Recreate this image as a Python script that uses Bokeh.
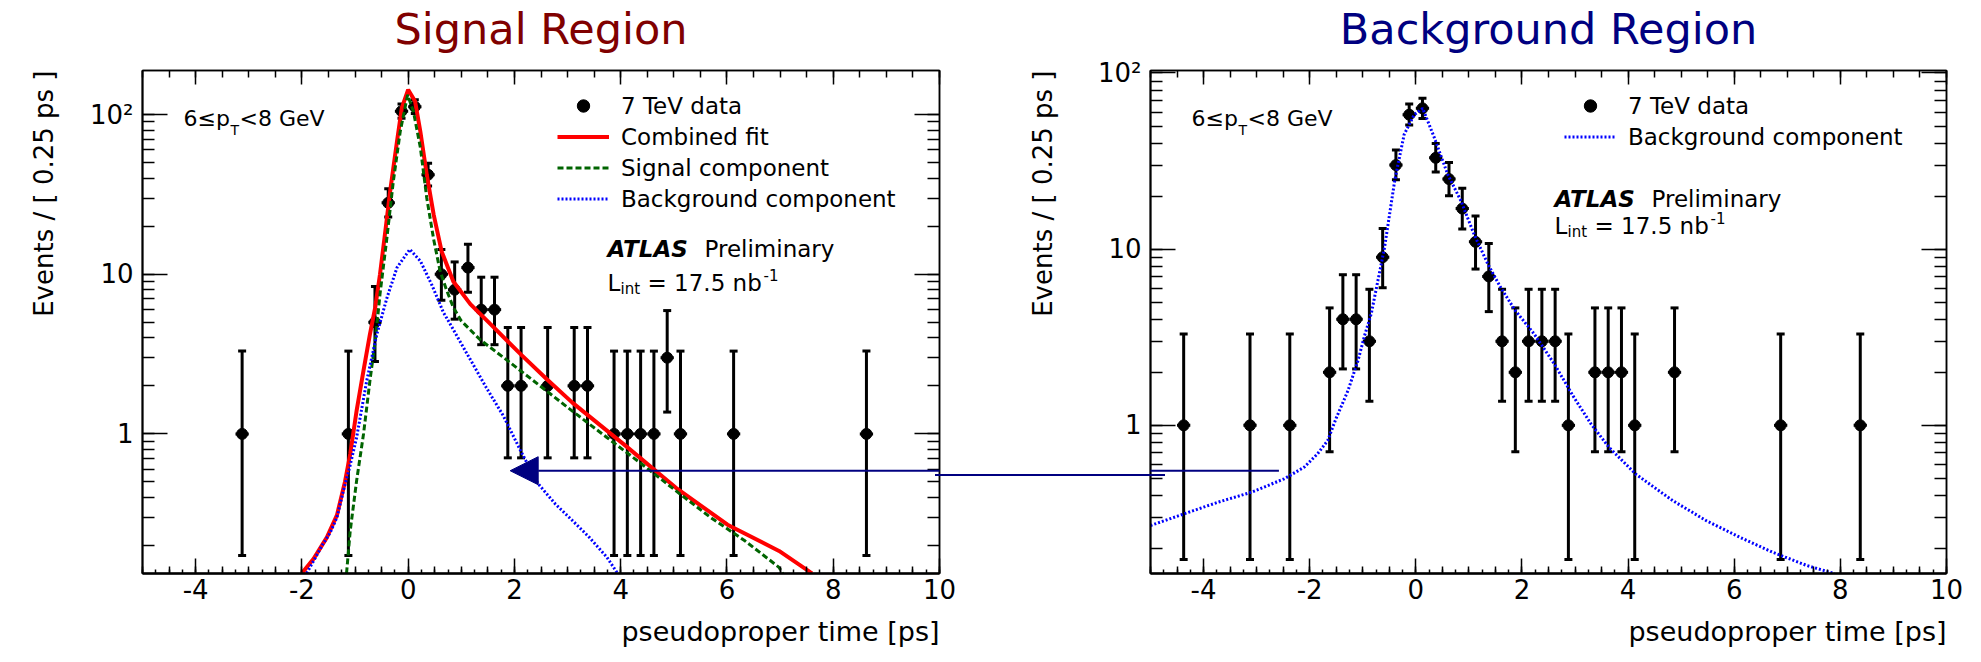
import numpy as np
from bokeh.embed import file_html
from bokeh.layouts import row
from bokeh.models import (Arrow, ColumnDataSource, Div, Label, Legend, LegendItem, LinearAxis,
                          LogAxis, LogTicker, NormalHead, Range1d, SingleIntervalTicker,
                          TeeHead, Title, Whisker)
from bokeh.plotting import figure
from bokeh.resources import INLINE

# ------------------------------------------------------------------ data
BIN_WIDTH = 0.25

# Signal region: data (bin centres, counts, Poisson 68% interval)
sig_x = [-3.125, -1.125, -0.625, -0.375, -0.125, 0.125, 0.375, 0.625, 0.875, 1.125,
         1.375, 1.625, 1.875, 2.125, 2.625, 3.125, 3.375, 3.875, 4.125, 4.375,
         4.625, 4.875, 5.125, 6.125, 8.625]
sig_n = [1, 1, 5, 28, 105, 112, 42, 10, 8, 11,
         6, 6, 2, 2, 2, 2, 2, 1, 1, 1,
         1, 3, 1, 1, 1]
sig_lo = [0.173, 0.173, 2.84, 22.8, 94.9, 101.6, 35.7, 6.87, 5.23, 7.71,
          3.62, 3.62, 0.708, 0.708, 0.708, 0.708, 0.708, 0.173, 0.173, 0.173,
          0.173, 1.37, 0.173, 0.173, 0.173]
sig_hi = [3.30, 3.30, 8.38, 34.3, 116.2, 123.6, 49.5, 14.27, 11.94, 15.42,
          9.58, 9.58, 4.64, 4.64, 4.64, 4.64, 4.64, 3.30, 3.30, 3.30,
          3.30, 5.92, 3.30, 3.30, 3.30]

# Signal region: combined fit
sig_fit_x = [-2.0, -1.78, -1.53, -1.34, -1.19, -1.09, -0.97, -0.84, -0.72, -0.62, -0.53,
             -0.43, -0.34, -0.21, -0.12, 0.0, 0.13, 0.23, 0.35, 0.48, 0.63, 0.85, 1.17,
             1.54, 2.12, 2.61, 3.09, 4.06, 5.04, 6.01, 6.98, 7.6]
sig_fit_y = [0.134, 0.165, 0.225, 0.31, 0.5, 0.75, 1.4, 2.5, 4.2, 6.2, 10.0,
             18.6, 33.0, 68.0, 110.0, 143.0, 121.0, 78.0, 42.0, 23.6, 13.9, 9.0, 6.5,
             4.9, 3.15, 2.2, 1.57, 0.86, 0.46, 0.27, 0.185, 0.134]
# Signal region: signal component
sig_sig_x = [-1.16, -1.09, -0.97, -0.84, -0.72, -0.62, -0.53, -0.40, -0.28, -0.15, -0.01,
             0.10, 0.23, 0.35, 0.48, 0.60, 0.72, 0.85, 1.0, 1.35, 1.80, 2.44, 3.09, 3.74,
             4.39, 5.04, 5.69, 6.33, 6.98, 7.05]
sig_sig_y = [0.134, 0.248, 0.51, 1.0, 2.15, 3.8, 7.5, 16.9, 38.0, 78.0, 133.0,
             104.0, 62.0, 30.0, 16.5, 10.5, 8.0, 6.2, 5.1, 3.9, 3.0, 2.05, 1.39, 0.95,
             0.65, 0.44, 0.30, 0.215, 0.146, 0.134]
# Signal region: background component
sig_bkg_x = [-1.91, -1.60, -1.47, -1.34, -1.22, -1.10, -0.97, -0.78, -0.59, -0.40, -0.21,
             0.03, 0.23, 0.45, 0.66, 0.85, 1.15, 1.47, 1.79, 2.12, 2.44, 2.77, 3.09, 3.41,
             3.74, 3.94]
sig_bkg_y = [0.134, 0.205, 0.24, 0.30, 0.44, 0.62, 0.95, 2.15, 4.2, 7.1, 11.0,
             14.3, 12.1, 8.5, 5.8, 4.5, 3.0, 1.95, 1.3, 0.78, 0.49, 0.364, 0.287, 0.225,
             0.169, 0.134]

# Background region: data
bkg_x = [-4.375, -3.125, -2.375, -1.625, -1.375, -1.125, -0.875, -0.625, -0.375, -0.125,
         0.125, 0.375, 0.625, 0.875, 1.125, 1.375, 1.625, 1.875, 2.125, 2.375,
         2.625, 2.875, 3.375, 3.625, 3.875, 4.125, 4.875, 6.875, 8.375]
bkg_n = [1, 1, 1, 2, 4, 4, 3, 9, 30, 58,
         63, 33, 25, 17, 11, 7, 3, 2, 3, 3,
         3, 1, 2, 2, 2, 1, 2, 1, 1]
bkg_lo = [0.173, 0.173, 0.173, 0.708, 2.09, 2.09, 1.37, 6.04, 24.8, 50.6,
          55.2, 27.4, 20.1, 13.0, 7.71, 4.42, 1.37, 0.708, 1.37, 1.37,
          1.37, 0.173, 0.708, 0.708, 0.708, 0.173, 0.708, 0.173, 0.173]
bkg_hi = [3.30, 3.30, 3.30, 4.64, 7.16, 7.16, 5.92, 13.11, 36.5, 66.6,
          71.9, 39.8, 31.0, 22.2, 15.42, 10.77, 5.92, 4.64, 5.92, 5.92,
          5.92, 3.30, 4.64, 4.64, 4.64, 3.30, 4.64, 3.30, 3.30]
# Background region: background component
bkg_fit_x = [-5.0, -4.36, -3.73, -3.10, -2.48, -2.10, -1.85, -1.66, -1.50, -1.28, -1.09,
             -0.97, -0.84, -0.59, -0.40, -0.22, -0.03, 0.13, 0.35, 0.60, 0.85, 1.10,
             1.36, 1.60, 1.87, 2.23, 2.61, 2.98, 3.30, 3.64, 4.14, 4.84, 5.47, 6.10,
             6.73, 7.37, 7.89]
bkg_fit_y = [0.27, 0.315, 0.366, 0.417, 0.497, 0.58, 0.69, 0.82, 1.1, 1.57, 2.33,
             3.2, 4.3, 10.2, 24.3, 44.8, 58.0, 63.0, 42.8, 26.6, 18.8, 12.1,
             8.2, 6.05, 4.5, 3.3, 2.23, 1.44, 1.02, 0.75, 0.53, 0.374, 0.288, 0.232,
             0.19, 0.16, 0.144]

X_TICK_LABELS = {-4: "-4", -2: "-2", 0: "0", 2: "2", 4: "4", 6: "6", 8: "8", 10: "10"}
Y_TICK_LABELS = {1: "1", 10: "10", 100: "10²"}
X_TITLE = "pseudoproper time [ps]"
Y_TITLE = "Events / [ 0.25 ps ]"
X_RANGE = (-5, 10)
SIG_Y_RANGE = (0.1336, 188.7)
BKG_Y_RANGE = (0.1442, 103.3)

# arrow linking the two regions
ARROW_SIG = dict(x_tip=1.92, y=0.588)
ARROW_BKG = dict(x_end=-2.58, y=0.5526)

# ------------------------------------------------------------------ style
FONT = "DejaVu Sans"
RED = "#ff0000"
GREEN = "#006400"
BLUE = "#0000ff"
NAVY = "#000080"


def bare_axis(cls, ticker, big, small, line_width=1.5):
    return cls(ticker=ticker, major_label_text_font_size="1px", major_label_text_color=None,
               major_label_standoff=0, major_tick_in=big, major_tick_out=0,
               minor_tick_in=small, minor_tick_out=0, major_tick_line_width=1.5,
               minor_tick_line_width=1.5, axis_line_width=line_width)


def style_axis_label(ax, text, size, standoff, color="black"):
    ax.axis_label = text
    ax.axis_label_text_font = FONT
    ax.axis_label_text_font_style = "normal"
    ax.axis_label_text_font_size = f"{size}px"
    ax.axis_label_text_color = color
    ax.axis_label_standoff = standoff


def make_panel(title, title_color, width, border_left, border_right, y_range, ytitle_standoff):
    p = figure(width=width, height=662, x_range=Range1d(*X_RANGE), y_range=Range1d(*y_range),
               y_axis_type="log", x_axis_location=None, output_backend="svg",
               toolbar_location=None, min_border_left=border_left,
               min_border_right=border_right, min_border_top=69, min_border_bottom=89)
    p.grid.visible = False
    p.outline_line_color = "black"
    p.outline_line_width = 1.5
    p.background_fill_color = "white"
    p.border_fill_color = "white"

    # bottom: fine ticks at the frame edge, then the labelled axis
    p.add_layout(bare_axis(LinearAxis, SingleIntervalTicker(interval=0.5, num_minor_ticks=2),
                           7, 4, line_width=2.5), "below")
    xa = LinearAxis(ticker=SingleIntervalTicker(interval=2, num_minor_ticks=0),
                    major_label_overrides=X_TICK_LABELS, axis_line_color=None)
    p.add_layout(xa, "below")

    ya = p.yaxis[0]
    ya.ticker = LogTicker(num_minor_ticks=10)
    ya.major_label_overrides = Y_TICK_LABELS
    for ax, big, small in ((xa, 15, 0), (ya, 25, 12)):
        ax.major_tick_in = big
        ax.major_tick_out = 0
        ax.minor_tick_in = small
        ax.minor_tick_out = 0
        ax.major_tick_line_width = 1.5
        ax.minor_tick_line_width = 1.5
        ax.major_label_text_font = FONT
        ax.major_label_text_font_size = "26px"
        ax.major_label_text_color = "black"
    ya.axis_line_width = 2
    xa.major_label_standoff = 5
    ya.major_label_standoff = 9

    # axis titles, aligned to the axis ends as ROOT does
    p.add_layout(Title(text=Y_TITLE, align="right", vertical_align="top", text_font=FONT,
                       text_font_style="normal", text_font_size="26px", text_color="black",
                       standoff=ytitle_standoff), "left")
    p.add_layout(Title(text=X_TITLE, align="right", vertical_align="bottom", text_font=FONT,
                       text_font_style="normal", text_font_size="27px", text_color="black",
                       standoff=24), "below")

    # top: mirrored ticks, carrying the region title
    top = bare_axis(LinearAxis, SingleIntervalTicker(interval=2, num_minor_ticks=4), 14, 7)
    style_axis_label(top, title, 43, 17, title_color)
    p.add_layout(top, "above")
    p.add_layout(bare_axis(LogAxis, LogTicker(num_minor_ticks=10), 25, 12), "right")
    return p


def add_data(p, x, n, lo, hi):
    x = np.asarray(x, dtype=float)
    src = ColumnDataSource(dict(x=x, y=n, lo=lo, hi=hi,
                                xl=x - BIN_WIDTH / 2, xr=x + BIN_WIDTH / 2))
    p.add_layout(Whisker(source=src, base="x", lower="lo", upper="hi", dimension="height",
                         line_color="black", line_width=3,
                         upper_head=TeeHead(size=8, line_width=3, line_color="black"),
                         lower_head=TeeHead(size=8, line_width=3, line_color="black")))
    p.segment(x0="xl", x1="xr", y0="y", y1="y", source=src, line_color="black", line_width=3)
    return p.scatter("x", "y", source=src, size=11, color="black")


def add_text(p, y_top, dx, dy, text, size, style="normal"):
    p.add_layout(Label(x=X_RANGE[0], y=y_top, x_offset=dx, y_offset=-dy, text=text,
                       text_font=FONT, text_font_size=f"{size}px", text_font_style=style,
                       text_baseline="alphabetic", text_align="left", text_color="black"))


def add_annotations(p, y_top, atlas_dx, atlas_dy, lumi_dy):
    add_text(p, y_top, 41, 48, "6≤p", 22)
    add_text(p, y_top, 88, 59, "T", 14)
    add_text(p, y_top, 97, 48, "<8 GeV", 22)
    add_text(p, y_top, atlas_dx, atlas_dy, "ATLAS", 23, "bold italic")
    add_text(p, y_top, atlas_dx + 97, atlas_dy, "Preliminary", 23)
    add_text(p, y_top, atlas_dx, lumi_dy, "L", 23)
    add_text(p, y_top, atlas_dx + 13, lumi_dy + 6, "int", 15)
    add_text(p, y_top, atlas_dx + 40, lumi_dy, "= 17.5 nb", 23)
    add_text(p, y_top, atlas_dx + 156, lumi_dy - 8, "-1", 15)


def make_legend(items, loc):
    return Legend(items=items, location=loc, glyph_width=52, glyph_height=31,
                  label_height=31, label_standoff=12, spacing=0, padding=0, margin=0,
                  border_line_alpha=0, background_fill_alpha=0, label_text_color="black",
                  label_text_font=FONT, label_text_font_size="23px")


# ------------------------------------------------------------------ signal region
p1 = make_panel("Signal Region", "#800000", 990, 142, 51, SIG_Y_RANGE, 52)
r_dat1 = add_data(p1, sig_x, sig_n, sig_lo, sig_hi)
r_fit = p1.line(sig_fit_x, sig_fit_y, line_color=RED, line_width=4)
r_sig = p1.line(sig_sig_x, sig_sig_y, line_color=GREEN, line_width=3, line_dash="6 3")
r_bkg1 = p1.line(sig_bkg_x, sig_bkg_y, line_color=BLUE, line_width=3, line_dash="2 2")
p1.add_layout(make_legend([
    LegendItem(label="7 TeV data", renderers=[r_dat1]),
    LegendItem(label="Combined fit", renderers=[r_fit]),
    LegendItem(label="Signal component", renderers=[r_sig]),
    LegendItem(label="Background component", renderers=[r_bkg1]),
], (415, 359)))
add_annotations(p1, SIG_Y_RANGE[1], 465, 178, 212)
p1.add_layout(Arrow(end=NormalHead(size=28, fill_color=NAVY, line_color=NAVY),
                    x_start=13.0, y_start=ARROW_SIG["y"], x_end=ARROW_SIG["x_tip"],
                    y_end=ARROW_SIG["y"], line_color=NAVY, line_width=2))

# ------------------------------------------------------------------ background region
p2 = make_panel("Background Region", NAVY, 991, 160, 35, BKG_Y_RANGE, 70)
r_dat2 = add_data(p2, bkg_x, bkg_n, bkg_lo, bkg_hi)
r_bkg2 = p2.line(bkg_fit_x, bkg_fit_y, line_color=BLUE, line_width=3, line_dash="2 2")
p2.add_layout(make_legend([
    LegendItem(label="7 TeV data", renderers=[r_dat2]),
    LegendItem(label="Background component", renderers=[r_bkg2]),
], (414, 421)))
add_annotations(p2, BKG_Y_RANGE[1], 404, 128, 155)
p2.add_layout(Arrow(end=None, x_start=-9.0, y_start=ARROW_BKG["y"], x_end=ARROW_BKG["x_end"],
                    y_end=ARROW_BKG["y"], line_color=NAVY, line_width=2))

# the arrow's shaft continues across the gap between the two frames
bridge = Div(text="", width=230, height=2,
             styles={"position": "fixed", "left": "930px", "top": "469px",
                     "width": "230px", "height": "2px", "background-color": NAVY,
                     "z-index": "10", "pointer-events": "none"})

layout = row(p1, p2, bridge)
with open("out.html", "w", encoding="utf-8") as f:
    f.write(file_html(layout, INLINE))
